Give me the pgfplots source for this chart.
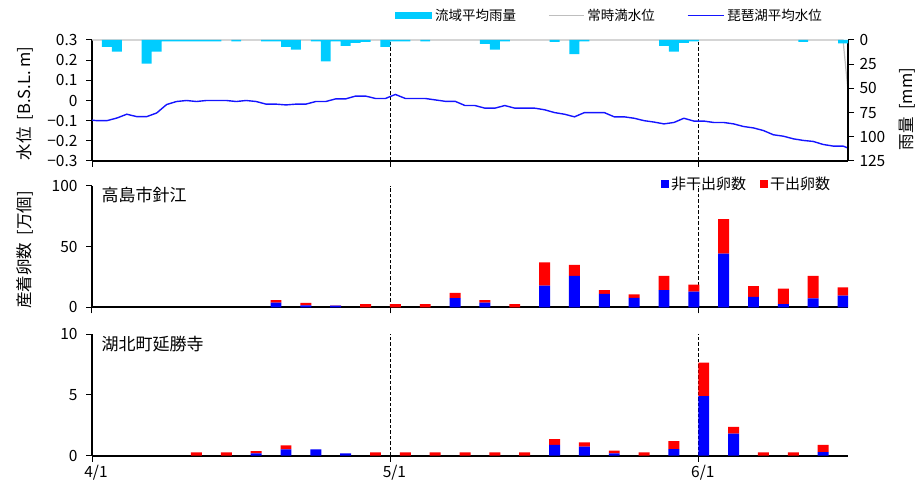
\documentclass[border=0pt]{standalone}
\usepackage{fontspec}
\setmainfont{Noto Sans CJK JP}
\usepackage{pgfplots}
\pgfplotsset{compat=1.18}
\usepackage{pgfplotstable}

\definecolor{rain}{RGB}{0,204,255}
\definecolor{fullgray}{RGB}{190,190,190}
\definecolor{lvlblue}{RGB}{20,20,255}
\definecolor{eggblue}{RGB}{0,0,255}
\definecolor{eggred}{RGB}{255,0,0}

\pgfplotstableread{
x y
-0.5 -0.095
0.5 -0.100
1.5 -0.100
2.5 -0.087
3.5 -0.068
4.5 -0.080
5.5 -0.080
6.5 -0.062
7.5 -0.020
8.5 -0.005
9.5 0.000
10.5 -0.005
11.5 0.000
12.5 0.000
13.5 0.000
14.5 -0.005
15.5 0.000
16.5 -0.005
17.5 -0.018
18.5 -0.018
19.5 -0.022
20.5 -0.018
21.5 -0.018
22.5 -0.005
23.5 -0.005
24.5 0.008
25.5 0.008
26.5 0.022
27.5 0.022
28.5 0.010
29.5 0.010
30.5 0.030
31.5 0.010
32.5 0.010
33.5 0.010
34.5 0.003
35.5 -0.004
36.5 -0.004
37.5 -0.025
38.5 -0.025
39.5 -0.038
40.5 -0.038
41.5 -0.025
42.5 -0.038
43.5 -0.038
44.5 -0.038
45.5 -0.046
46.5 -0.060
47.5 -0.068
48.5 -0.081
49.5 -0.060
50.5 -0.060
51.5 -0.060
52.5 -0.081
53.5 -0.081
54.5 -0.088
55.5 -0.100
56.5 -0.107
57.5 -0.116
58.5 -0.109
59.5 -0.088
60.5 -0.102
61.5 -0.102
62.5 -0.109
63.5 -0.109
64.5 -0.116
65.5 -0.129
66.5 -0.136
67.5 -0.149
68.5 -0.170
69.5 -0.177
70.5 -0.190
71.5 -0.198
72.5 -0.203
73.5 -0.218
74.5 -0.226
75.5 -0.226
76.5 -0.245
}\levelTable

\pgfplotstableread{
x y
1.5 7
2.5 12
5.5 24.5
6.5 12
7.5 1.5
8.5 1.5
9.5 1.5
10.5 1.5
11.5 1.5
12.5 1.5
14.5 1.5
17.5 1.5
18.5 1.5
19.5 7
20.5 10
22.5 1.5
23.5 22
24.5 1.5
25.5 6
26.5 3
27.5 2
29.5 7
30.5 1.5
31.5 1.5
33.5 1.5
39.5 4
40.5 10
41.5 1.5
46.5 2
48.5 14.5
49.5 1.5
57.5 6
58.5 12
59.5 3
60.5 1.5
71.5 2
75.5 3.5
}\rainTable

\pgfplotstableread{
x blue red
18.5 3.8 2.2
21.5 1.6 2.0
24.5 1.4 0.2
27.5 0 2.7
30.5 0 2.7
33.5 0 2.7
36.5 7.5 4.3
39.5 3.8 2.2
42.5 0 2.7
45.5 17.8 19.2
48.5 25.8 9.0
51.5 11.0 3.2
54.5 7.7 3.0
57.5 14.2 11.6
60.5 12.9 5.7
63.5 44.1 28.5
66.5 8.5 9.0
69.5 2.7 12.6
72.5 7.4 18.4
75.5 9.6 6.8
}\harieTable

\pgfplotstableread{
x blue red
10.5 0 0.27
13.5 0 0.27
16.5 0.19 0.19
19.5 0.52 0.33
22.5 0.52 0
25.5 0.19 0
28.5 0 0.27
31.5 0 0.27
34.5 0 0.27
37.5 0 0.27
40.5 0 0.27
43.5 0 0.27
46.5 0.88 0.49
49.5 0.74 0.36
52.5 0.19 0.22
55.5 0 0.27
58.5 0.55 0.65
61.5 4.9 2.74
64.5 1.81 0.55
67.5 0 0.27
70.5 0 0.27
73.5 0.30 0.58
}\enshojiTable

\pgfplotsset{
  base/.style={
    scale only axis, width=756pt, xmin=0, xmax=76,
    /pgf/number format/assume math mode=true,
    tick label style={font=\fontsize{15.5}{16}\selectfont},
    tick align=outside, major tick length=6pt,
    every tick/.style={black, line width=1pt},
    axis line style={black, line width=1.7pt},
    xtick={0,30,61},
    xmajorgrids,
    major x grid style={black, line width=1pt, dash pattern=on 3.5pt off 2pt},
    every axis y label/.style={at={(axis description cs:-0.0886,0.5)}, rotate=90, anchor=center, font=\fontsize{16.5}{17}\selectfont},
  },
  leftlabels/.style={yticklabel style={xshift=-5pt}},
  rainimg/.style={legend image code/.code={\fill[rain] (0pt,-3.5pt) rectangle (37pt,3.5pt);}},
  grayimg/.style={legend image code/.code={\draw[fullgray, line width=1.2pt] (0pt,0pt) -- (35pt,0pt);}},
  blueimg/.style={legend image code/.code={\draw[lvlblue, line width=1.4pt] (0pt,0pt) -- (36pt,0pt);}},
  bsq/.style={legend image code/.code={\fill[eggblue] (0pt,-4pt) rectangle (8pt,4pt);}},
  rsq/.style={legend image code/.code={\fill[eggred] (0pt,-4pt) rectangle (8pt,4pt);}},
}

\begin{document}
\begin{tikzpicture}
\useasboundingbox (0,0) rectangle (915pt,482pt);

% ---------- top panel: water level ----------
\begin{axis}[base, leftlabels, at={(92pt,321pt)}, anchor=south west, height=121pt,
  axis x line*=bottom, axis y line*=left,
  ymin=-0.3, ymax=0.3,
  ytick={-0.3,-0.2,-0.1,0,0.1,0.2,0.3},
  yticklabels={−0.3,−0.2,−0.1,0,0.1,0.2,0.3},
  xticklabels={},
  every axis y label/.append style={at={(axis description cs:-0.0886,0.475)}},
  ylabel={水位\ \ [B.S.L. m]},
]
\addplot[fullgray, line width=1.2pt] coordinates {(-0.5,0.3) (75.5,0.3) (76.5,-0.2)};
\addplot[lvlblue, line width=1.4pt] table[x=x,y=y] {\levelTable};
\end{axis}

% ---------- top panel: rainfall (right axis) ----------
\begin{axis}[base, at={(92pt,321pt)}, anchor=south west, height=121pt,
  axis x line=none, axis y line*=right, xmajorgrids=false,
  y dir=reverse, ymin=0, ymax=125,
  ytick={0,25,50,75,100,125},
  yticklabel style={xshift=2pt},
  every axis y label/.style={at={(axis description cs:1.078,0.43)}, rotate=90, anchor=center, font=\fontsize{16.5}{17}\selectfont},
  ylabel={雨量\ \ [mm]},
  legend columns=-1,
  legend style={at={(axis description cs:0.4008,1.2025)}, anchor=west, draw=none, fill=none,
    inner sep=0pt, font=\fontsize{13.5}{14}\selectfont,
    nodes={inner sep=3pt},
    /tikz/every even column/.append style={column sep=29pt}},
]
\addplot[ybar, bar width=1, bar shift=0, fill=rain, draw=none, rainimg]
  table[x=x,y=y] {\rainTable};
\addlegendentry{流域平均雨量}
\addlegendimage{grayimg}
\addlegendentry{常時満水位}
\addlegendimage{blueimg}
\addlegendentry{琵琶湖平均水位}
\end{axis}

% ---------- middle panel ----------
\begin{axis}[base, leftlabels, at={(92pt,174.7pt)}, anchor=south west, height=121.6pt,
  axis x line*=bottom, axis y line*=left,
  ymin=0, ymax=100, ytick={0,50,100},
  xticklabels={},
  ybar stacked, bar width=1.1,
  every axis y label/.append style={at={(axis description cs:-0.0886,0.47)}},
  ylabel={産着卵数\ \ [万個]},
  legend columns=-1,
  legend style={at={(axis description cs:0.7526,1.014)}, anchor=west, draw=none, fill=none,
    inner sep=0pt, font=\fontsize{15}{15}\selectfont,
    nodes={inner sep=2pt},
    /tikz/every even column/.append style={column sep=12pt}},
]
\addplot[fill=eggblue, draw=none, bsq] table[x=x,y=blue] {\harieTable};
\addlegendentry{非干出卵数}
\addplot[fill=eggred, draw=none, rsq] table[x=x,y=red] {\harieTable};
\addlegendentry{干出卵数}
\node[anchor=west, font=\fontsize{17}{17}\selectfont] at (axis description cs:0.008,0.92) {高島市針江};
\end{axis}

% ---------- bottom panel ----------
\begin{axis}[base, leftlabels, at={(92pt,26.3pt)}, anchor=south west, height=121.7pt,
  axis x line*=bottom, axis y line*=left,
  ymin=0, ymax=10, ytick={0,5,10},
  xticklabels={4/1,5/1,6/1},
  xticklabel style={xshift=4pt},
  ybar stacked, bar width=1.1,
]
\addplot[fill=eggblue, draw=none] table[x=x,y=blue] {\enshojiTable};
\addplot[fill=eggred, draw=none] table[x=x,y=red] {\enshojiTable};
\node[anchor=west, font=\fontsize{17}{17}\selectfont] at (axis description cs:0.008,0.92) {湖北町延勝寺};
\end{axis}
\end{tikzpicture}
\end{document}
